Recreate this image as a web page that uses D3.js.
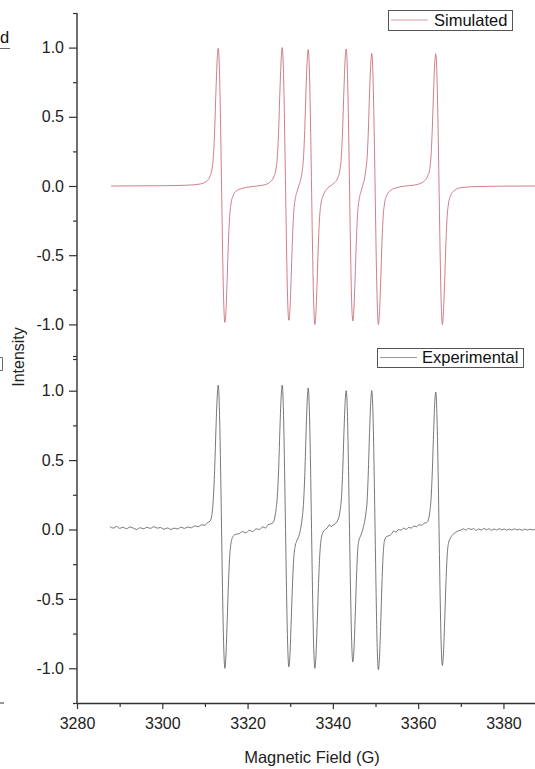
<!DOCTYPE html>
<html>
<head>
<meta charset="utf-8">
<script src="https://cdn.jsdelivr.net/npm/d3@7"></script>
<style>
    body { margin: 0; background: #fff; }
    svg { display: block; font-family: 'Liberation Sans', Arial, sans-serif; }
</style>
</head>
<body>
<div id="chart"></div>
<script>
// two stacked EPR spectra sharing one field axis
const width = 535;
const height = 769;

const fieldMajor = [3280, 3300, 3320, 3340, 3360, 3380];
const fieldMinor = [3290, 3310, 3330, 3350, 3370];
const intensityMajor = [-1.0, -0.5, 0.0, 0.5, 1.0];
const intensityMinor = [-1.25, -0.75, -0.25, 0.25, 0.75, 1.25];

const legendNames = ['Simulated', 'Experimental'];

// [field (G), intensity]
const simulated = [
    [3288, 0], [3300, 0.002], [3306, 0.006], [3309, 0.015], [3310.4, 0.035],
    [3311.2, 0.07], [3311.7, 0.13], [3312.0, 0.22], [3312.3, 0.42], [3312.6, 0.7],
    [3312.9, 0.93], [3313.12, 0.995], [3313.4, 0.84], [3313.65, 0.48], [3313.9, 0],
    [3314.15, -0.48], [3314.4, -0.84], [3314.68, -0.985], [3314.9, -0.92], [3315.2, -0.69],
    [3315.5, -0.41], [3315.8, -0.22], [3316.1, -0.13], [3316.6, -0.07], [3317.4, -0.035],
    [3319, -0.015], [3322, -0.001], [3324, 0.009], [3325.4, 0.032], [3326.2, 0.07],
    [3326.7, 0.13], [3327.0, 0.22], [3327.3, 0.42], [3327.6, 0.7], [3327.9, 0.93],
    [3328.12, 1.0], [3328.4, 0.84], [3328.65, 0.48], [3328.9, 0.008], [3329.15, -0.47],
    [3329.4, -0.83], [3329.68, -0.97], [3329.9, -0.91], [3330.2, -0.68], [3330.5, -0.4],
    [3330.8, -0.2], [3331.1, -0.11], [3331.6, -0.04], [3332.0, 0.0], [3332.4, 0.04],
    [3332.8, 0.105], [3333.1, 0.2], [3333.4, 0.4], [3333.7, 0.69], [3334.0, 0.92],
    [3334.22, 0.985], [3334.5, 0.83], [3334.75, 0.47], [3335.0, 0], [3335.25, -0.48],
    [3335.5, -0.84], [3335.78, -1.0], [3336.0, -0.93], [3336.3, -0.7], [3336.6, -0.42],
    [3336.9, -0.22], [3337.2, -0.13], [3337.7, -0.07], [3338.5, -0.025], [3340.0, 0.013],
    [3340.4, 0.025], [3341.2, 0.062], [3341.7, 0.125], [3342.0, 0.215], [3342.3, 0.42],
    [3342.6, 0.7], [3342.9, 0.93], [3343.12, 0.99], [3343.4, 0.84], [3343.65, 0.48],
    [3343.9, 0.008], [3344.15, -0.47], [3344.4, -0.83], [3344.68, -0.975], [3344.9, -0.91],
    [3345.2, -0.68], [3345.5, -0.4], [3345.8, -0.2], [3346.1, -0.11], [3346.6, -0.04],
    [3347.0, 0.005], [3347.4, 0.05], [3347.8, 0.135], [3348.0, 0.19], [3348.3, 0.38],
    [3348.6, 0.67], [3348.9, 0.89], [3349.12, 0.957], [3349.4, 0.8], [3349.65, 0.46],
    [3349.9, 0], [3350.15, -0.48], [3350.4, -0.84], [3350.68, -1.0], [3350.9, -0.93],
    [3351.2, -0.7], [3351.5, -0.42], [3351.8, -0.22], [3352.1, -0.13], [3352.6, -0.07],
    [3353.4, -0.035], [3355, -0.012], [3357, 0], [3359, 0.006], [3360, 0.013],
    [3361.4, 0.035], [3362.2, 0.07], [3362.7, 0.12], [3363.0, 0.21], [3363.3, 0.4],
    [3363.6, 0.67], [3363.9, 0.89], [3364.12, 0.955], [3364.4, 0.8], [3364.65, 0.46],
    [3364.9, 0], [3365.15, -0.48], [3365.4, -0.84], [3365.68, -1.0], [3365.9, -0.93],
    [3366.2, -0.7], [3366.5, -0.42], [3366.8, -0.22], [3367.1, -0.13], [3367.6, -0.07],
    [3368.4, -0.035], [3370, -0.012], [3374, -0.004], [3380, -0.001], [3388, 0],
];

const experimental = [
    [3287.7, 0.02], [3288.5, 0.01], [3289.3, 0.022], [3290.0, 0.008], [3290.8, 0.016],
    [3291.6, 0.005], [3292.4, 0.018], [3293.2, 0.01], [3294.0, 0.0], [3294.8, 0.013],
    [3295.6, 0.005], [3296.4, 0.016], [3297.2, 0.008], [3298.0, 0.02], [3298.8, 0.01],
    [3299.6, 0.014], [3300.4, 0.002], [3301.2, 0.011], [3302.0, 0.0], [3302.8, 0.01],
    [3303.6, 0.004], [3304.4, 0.016], [3305.2, 0.008], [3306.0, 0.018], [3306.8, 0.012],
    [3307.6, 0.026], [3308.4, 0.02], [3309.2, 0.033], [3310.0, 0.03], [3310.6, 0.05],
    [3311.2, 0.06], [3311.6, 0.1], [3312.0, 0.24], [3312.3, 0.45], [3312.6, 0.74],
    [3312.9, 0.97], [3313.12, 1.04], [3313.4, 0.86], [3313.65, 0.48], [3313.9, 0.0],
    [3314.15, -0.48], [3314.4, -0.84], [3314.68, -1.0], [3314.9, -0.92], [3315.2, -0.68],
    [3315.5, -0.4], [3315.8, -0.2], [3316.1, -0.1], [3316.6, -0.05], [3317.2, -0.035],
    [3318.0, -0.03], [3318.8, -0.015], [3319.6, -0.025], [3320.4, -0.005], [3321.2, -0.015],
    [3322.0, 0.005], [3322.8, 0.0], [3323.6, 0.02], [3324.2, 0.01], [3324.8, 0.035],
    [3325.4, 0.04], [3326.0, 0.05], [3326.4, 0.09], [3326.7, 0.15], [3327.0, 0.25],
    [3327.3, 0.45], [3327.6, 0.74], [3327.9, 0.97], [3328.12, 1.04], [3328.4, 0.86],
    [3328.65, 0.48], [3328.9, 0.0], [3329.15, -0.47], [3329.4, -0.83], [3329.68, -0.99],
    [3329.9, -0.92], [3330.2, -0.69], [3330.5, -0.42], [3330.8, -0.22], [3331.1, -0.13],
    [3331.5, -0.085], [3332.0, -0.05], [3332.4, 0.0], [3332.8, 0.08], [3333.1, 0.18],
    [3333.4, 0.38], [3333.7, 0.68], [3334.0, 0.94], [3334.22, 1.02], [3334.5, 0.85],
    [3334.75, 0.48], [3335.0, 0.0], [3335.25, -0.48], [3335.5, -0.84], [3335.78, -1.0],
    [3336.0, -0.93], [3336.3, -0.7], [3336.6, -0.42], [3336.9, -0.2], [3337.2, -0.08],
    [3337.7, -0.02], [3338.2, 0.0], [3338.7, 0.012], [3339.2, 0.035], [3339.6, 0.02],
    [3340.0, 0.03], [3340.5, 0.04], [3341.0, 0.06], [3341.5, 0.1], [3341.8, 0.16],
    [3342.0, 0.22], [3342.3, 0.42], [3342.6, 0.7], [3342.9, 0.93], [3343.12, 1.0],
    [3343.4, 0.85], [3343.65, 0.47], [3343.9, 0.0], [3344.15, -0.45], [3344.4, -0.8],
    [3344.68, -0.955], [3344.9, -0.89], [3345.2, -0.66], [3345.5, -0.38], [3345.8, -0.16],
    [3346.1, -0.08], [3346.6, -0.04], [3347.0, 0.0], [3347.4, 0.05], [3347.8, 0.13],
    [3348.0, 0.19], [3348.3, 0.4], [3348.6, 0.7], [3348.9, 0.93], [3349.12, 1.0],
    [3349.4, 0.84], [3349.65, 0.47], [3349.9, 0.0], [3350.15, -0.48], [3350.4, -0.85],
    [3350.68, -1.01], [3350.9, -0.94], [3351.2, -0.7], [3351.5, -0.4], [3351.8, -0.18],
    [3352.1, -0.08], [3352.6, -0.05], [3353.2, -0.045], [3353.8, -0.03], [3354.3, -0.01],
    [3354.8, -0.02], [3355.4, 0.0], [3356.0, -0.005], [3356.6, 0.01], [3357.2, 0.0],
    [3357.8, 0.015], [3358.4, 0.01], [3359.0, 0.025], [3359.6, 0.02], [3360.2, 0.035],
    [3360.8, 0.03], [3361.4, 0.045], [3362.0, 0.05], [3362.4, 0.07], [3362.7, 0.12],
    [3363.0, 0.21], [3363.3, 0.4], [3363.6, 0.68], [3363.9, 0.92], [3364.12, 0.99],
    [3364.4, 0.83], [3364.65, 0.47], [3364.9, 0.0], [3365.15, -0.47], [3365.4, -0.83],
    [3365.68, -0.98], [3365.9, -0.91], [3366.2, -0.68], [3366.5, -0.4], [3366.8, -0.19],
    [3367.1, -0.1], [3367.6, -0.06], [3368.2, -0.035], [3368.8, -0.02], [3369.4, -0.01],
    [3370.0, -0.005], [3370.6, 0.005], [3371.2, -0.005], [3371.8, 0.008], [3372.4, 0.0],
    [3373.0, 0.006], [3373.6, -0.006], [3374.2, 0.004], [3374.8, -0.004], [3375.4, 0.008],
    [3376.0, -0.002], [3376.6, 0.005], [3377.2, -0.006], [3377.8, 0.004], [3378.4, -0.004],
    [3379.0, 0.006], [3379.6, -0.003], [3380.2, 0.004], [3380.8, -0.005], [3381.4, 0.003],
    [3382.0, -0.004], [3382.6, 0.005], [3383.2, -0.003], [3383.8, 0.002], [3384.4, -0.006],
    [3385.0, 0.003], [3385.6, -0.004], [3386.2, 0.002], [3386.8, -0.003], [3387.4, 0.0],
    [3388.0, -0.002],
];

const axisColor = '#333';
const simColor = '#c25e6b';
const expColor = '#555';
const fmt = d => d.toFixed(1);

const svg = d3
    .select('#chart')
    .append('svg')
    .attr('width', width)
    .attr('height', height);

const x = d3.scaleLinear().domain([3280, 3387.4]).range([77, 535]);
const yTop = d3.scaleLinear().domain([-1.25, 1.25]).range([359, 13]);
const yBot = d3.scaleLinear().domain([-1.25, 1.25]).range([703, 356]);

svg.append('clipPath')
    .attr('id', 'plot-clip')
    .append('rect')
    .attr('x', 77)
    .attr('y', 13)
    .attr('width', width - 77)
    .attr('height', 690);

const drawPanel = (data, y, color, name, box) => {
    const line = d3
        .line()
        .x(d => x(d[0]))
        .y(d => y(d[1]))
        .curve(d3.curveMonotoneX);

    svg.append('path')
        .datum(data)
        .attr('clip-path', 'url(#plot-clip)')
        .attr('fill', 'none')
        .attr('stroke', color)
        .attr('stroke-width', 0.8)
        .attr('stroke-linejoin', 'round')
        .attr('d', line);

    // minor ticks, then labelled ticks
    svg.append('g')
        .attr('transform', 'translate(77,0)')
        .call(d3.axisLeft(y).tickValues(intensityMinor).tickSize(4).tickSizeOuter(0).tickFormat(''))
        .call(g => g.select('.domain').remove());
    svg.append('g')
        .attr('transform', 'translate(77,0)')
        .call(d3.axisLeft(y).tickValues(intensityMajor).tickSize(8).tickPadding(5).tickFormat(fmt))
        .call(g => g.select('.domain').remove())
        .call(g => g.selectAll('text').attr('font-size', 16).attr('fill', '#222'));

    // legend
    const lg = svg.append('g');
    lg.append('rect')
        .attr('x', box.x0 + 0.5)
        .attr('y', box.y0 + 0.5)
        .attr('width', box.x1 - box.x0)
        .attr('height', box.y1 - box.y0)
        .attr('fill', '#fff')
        .attr('stroke', '#555')
        .attr('stroke-width', 1);
    lg.append('line')
        .attr('x1', box.x0 + 3)
        .attr('x2', box.sampleEnd)
        .attr('y1', (box.y0 + box.y1) / 2)
        .attr('y2', (box.y0 + box.y1) / 2)
        .attr('stroke', color)
        .attr('stroke-opacity', 0.6)
        .attr('stroke-width', 1);
    lg.append('text')
        .attr('x', box.textX)
        .attr('y', box.y1 - 4)
        .attr('font-size', 16.5)
        .attr('fill', '#111')
        .text(name);
};

drawPanel(simulated, yTop, simColor, legendNames[0], { x0: 388, x1: 512, y0: 10, y1: 30, sampleEnd: 428, textX: 434 });
drawPanel(experimental, yBot, expColor, legendNames[1], { x0: 377, x1: 523, y0: 348, y1: 367, sampleEnd: 417, textX: 422 });

// y axis spine
svg.append('line')
    .attr('x1', 77).attr('x2', 77)
    .attr('y1', 13).attr('y2', 703)
    .attr('stroke', axisColor)
    .attr('stroke-width', 1.4);

// x axis
svg.append('g')
    .attr('transform', 'translate(0,703)')
    .call(d3.axisBottom(x).tickValues(fieldMinor).tickSize(4).tickSizeOuter(0).tickFormat(''))
    .call(g => g.select('.domain').remove());
svg.append('g')
    .attr('transform', 'translate(0,703)')
    .call(d3.axisBottom(x).tickValues(fieldMajor).tickSize(6).tickSizeOuter(0).tickPadding(9).tickFormat(d3.format('d')))
    .call(g => g.select('.domain').attr('stroke-width', 1.4))
    .call(g => g.selectAll('text').attr('font-size', 16).attr('fill', '#222'));

svg.selectAll('.tick line').attr('stroke', axisColor).attr('stroke-width', 1.2);
svg.selectAll('.domain').attr('stroke', axisColor);

// axis titles
svg.append('text')
    .attr('transform', 'translate(24,357) rotate(-90)')
    .attr('text-anchor', 'middle')
    .attr('font-size', 16)
    .attr('fill', '#222')
    .text('Intensity');
svg.append('text')
    .attr('x', 312)
    .attr('y', 763)
    .attr('text-anchor', 'middle')
    .attr('font-size', 16.5)
    .attr('fill', '#222')
    .text('Magnetic Field (G)');

// slivers of the neighbouring panel cut off at the left edge
const edge = svg.append('g').attr('stroke', '#666').attr('fill', 'none');
edge.append('line').attr('x1', 0).attr('x2', 10).attr('y1', 48.5).attr('y2', 48.5);
edge.append('path').attr('d', 'M0,357.5H2.5V370.5H0');
edge.append('line').attr('x1', 0).attr('x2', 4).attr('y1', 703).attr('y2', 703).attr('stroke', axisColor);
svg.append('text')
    .attr('x', 0)
    .attr('y', 43)
    .attr('font-size', 16.5)
    .attr('fill', '#111')
    .text('d');
</script>
</body>
</html>
